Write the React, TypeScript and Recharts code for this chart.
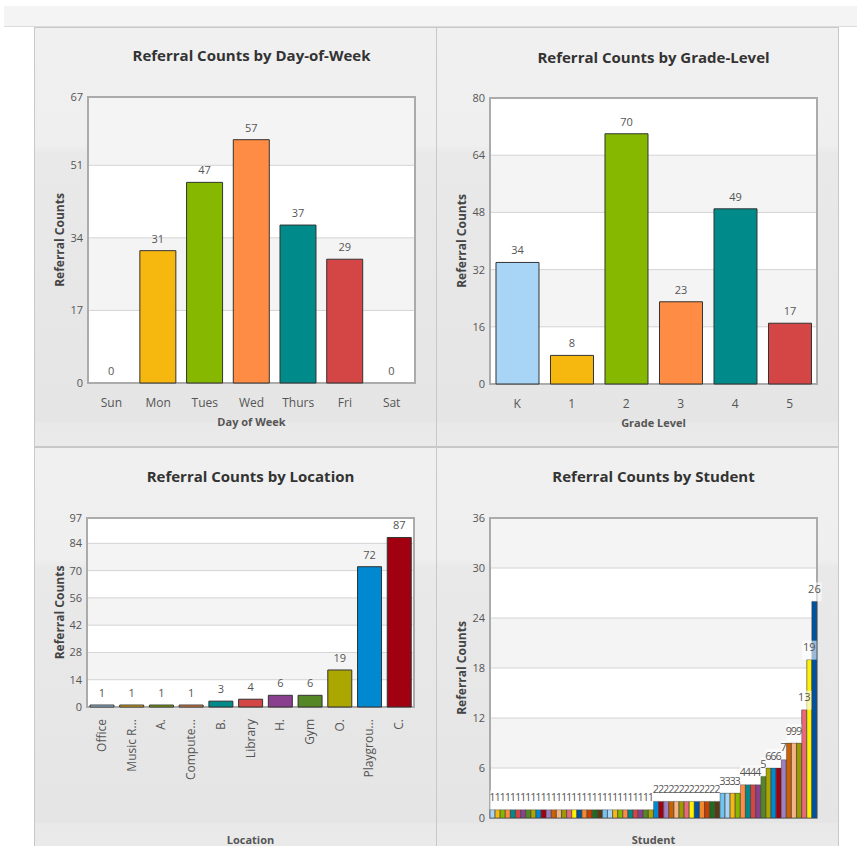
import React from 'react';
import { BarChart, Bar, XAxis, YAxis, CartesianGrid, Cell, LabelList, ReferenceArea } from 'recharts';

// ---------- data ----------
const PALETTE = [
  '#a8d5f5', '#f6b80f', '#86b800', '#ff8c44', '#008a8a', '#d44545', '#8a3f8f', '#558726',
  '#aba600', '#0088d1', '#a0000f', '#9d7fc2', '#cc6100', '#f5b482', '#9c9a00', '#e8687c',
  '#fff200', '#00539e', '#f28a2c', '#c83d00', '#1f6b20', '#5a3a12', '#72c3f0',
];

const dayCategories = ['Sun', 'Mon', 'Tues', 'Wed', 'Thurs', 'Fri', 'Sat'];
const dayCounts = [0, 31, 47, 57, 37, 29, 0];
const dayTicks = [0, 17, 34, 51, 67];

const gradeCategories = ['K', '1', '2', '3', '4', '5'];
const gradeCounts = [34, 8, 70, 23, 49, 17];
const gradeTicks = [0, 16, 32, 48, 64, 80];

const locationCategories = ['Office', 'Music R...', 'A.', 'Compute...', 'B.', 'Library', 'H.', 'Gym', 'O.', 'Playgrou...', 'C.'];
const locationCounts = [1, 1, 1, 1, 3, 4, 6, 6, 19, 72, 87];
const locationTicks = [0, 14, 28, 42, 56, 70, 84, 97];

const studentCounts = [
  1, 1, 1, 1, 1, 1, 1, 1, 1, 1, 1, 1, 1, 1, 1, 1,
  1, 1, 1, 1, 1, 1, 1, 1, 1, 1, 1, 1, 1, 1, 1, 1,
  2, 2, 2, 2, 2, 2, 2, 2, 2, 2, 2, 2, 2,
  3, 3, 3, 3,
  4, 4, 4, 4,
  5,
  6, 6, 6,
  7,
  9, 9, 9,
  13, 19, 26,
];
const studentCategories = studentCounts.map((_, i) => `Student ${i + 1}`);
const studentTicks = [0, 6, 12, 18, 24, 30, 36];

// ---------- styling ----------
const FONT = "'Open Sans', 'DejaVu Sans', sans-serif";
const TEXT = '#555555';

type Spec = {
  left: number; top: number; width: number; height: number;
  title: string; titleCy: number;
  names: string[]; values: number[]; ticks: number[];
  plotLeft: number; plotTop: number; plotRight: number; plotBottom: number;
  xTitle: string; xTitleCy: number;
  xTickMode: 'flat' | 'rotated' | 'none';
  gap: string;
  boxed: boolean;
};

const RotatedTick = (props: any) => {
  const { x, y, payload } = props;
  return (
    <text x={x} y={y} transform={`rotate(-90 ${x} ${y})`} textAnchor="end" dy={4} fontSize={12} fill={TEXT}>
      {payload.value}
    </text>
  );
};

const PlainLabel = (props: any) => {
  const { x, y, width, value } = props;
  const cx = Number(x) + Number(width) / 2;
  return (
    <text x={cx} y={Number(y) - 8} textAnchor="middle" fontSize={11} fill={TEXT}>{String(value)}</text>
  );
};

const BoxedLabel = (props: any) => {
  const { x, y, width, value } = props;
  const cx = Number(x) + Number(width) / 2;
  const s = String(value);
  const bw = s.length === 1 ? Number(width) : s.length * 6.3 + 2;
  return (
    <g>
      <rect x={cx - bw / 2} y={Number(y) - 19} width={bw} height={19} fill="#ffffff" fillOpacity={0.6} />
      <text x={cx} y={Number(y) - 8.5} textAnchor="middle" fontSize={11} fill={TEXT}>{s}</text>
    </g>
  );
};

const zeroPoint = (value: any) => (Number(value) === 0 ? 0.01 : 0);

function RefPanel({ spec }: { spec: Spec }) {
  const data = spec.names.map((name, i) => ({ name, value: spec.values[i] }));
  const stripes = spec.ticks.length - 1;
  const fills = stripes % 2 === 1 ? ['#ffffff', '#f4f4f4'] : ['#f4f4f4', '#ffffff'];
  const plotW = spec.width - spec.plotLeft - spec.plotRight;
  const xAxisHeight = spec.height - spec.plotBottom;
  const maxTick = spec.ticks[spec.ticks.length - 1];
  const barStroke = spec.boxed ? '#3a3a3a' : '#333333';
  const barStrokeWidth = spec.boxed ? 0.6 : 1;

  const yTitle = (p: any) => {
    const vb = p.viewBox || {};
    const cx = vb.x + 25;
    const cy = vb.y + vb.height / 2;
    return (
      <text x={cx} y={cy} transform={`rotate(-90 ${cx} ${cy})`} textAnchor="middle" dy="0.36em"
        fontSize={12} fontWeight={700} fill="#444">Referral Counts</text>
    );
  };
  const xTitle = (p: any) => {
    const vb = p.viewBox || {};
    return (
      <text x={vb.x + vb.width / 2} y={vb.y + spec.xTitleCy} textAnchor="middle" dy="0.36em"
        fontSize={11} fontWeight={700} fill={TEXT}>{spec.xTitle}</text>
    );
  };

  let tickProp: any = { fontSize: 12, fill: TEXT };
  if (spec.xTickMode === 'rotated') tickProp = <RotatedTick />;
  if (spec.xTickMode === 'none') tickProp = false;

  return (
    <div style={{ position: 'absolute', left: spec.left, top: spec.top, width: spec.width, height: spec.height, overflow: 'hidden' }}>
      <BarChart width={spec.width} height={spec.height} data={data}
        margin={{ top: spec.plotTop, right: spec.plotRight, bottom: 0, left: 0 }}
        barCategoryGap={spec.gap}>
        <CartesianGrid vertical={false} stroke="#d4d4d4" horizontalFill={fills} fillOpacity={1} />
        <XAxis dataKey="name" height={xAxisHeight} axisLine={false} tickLine={false} interval={0}
          tick={tickProp} tickSize={6} tickMargin={spec.xTickMode === 'rotated' ? 6 : 9}
          label={xTitle} />
        <YAxis width={spec.plotLeft} domain={[0, maxTick]} ticks={spec.ticks} interval={0}
          axisLine={false} tickLine={false} tickSize={0} tickMargin={5}
          tick={{ fontSize: 11, fill: TEXT }} label={yTitle} />
        <Bar dataKey="value" isAnimationActive={false} minPointSize={zeroPoint}
          stroke={barStroke} strokeWidth={barStrokeWidth}>
          {data.map((d, i) => (
            <Cell key={d.name} fill={PALETTE[i % PALETTE.length]}
              stroke={d.value === 0 ? 'none' : barStroke} strokeWidth={barStrokeWidth} />
          ))}
          <LabelList dataKey="value" content={spec.boxed ? BoxedLabel : PlainLabel} />
        </Bar>
        <ReferenceArea y1={0} y2={maxTick} fill="none" fillOpacity={0} stroke="#ababab" strokeWidth={2} ifOverflow="visible" />
      </BarChart>
      <div style={{
        position: 'absolute', left: spec.plotLeft, width: plotW, top: spec.titleCy - 10, height: 20,
        lineHeight: '20px', textAlign: 'center', fontWeight: 700, fontSize: 15, color: '#333',
        whiteSpace: 'nowrap',
      }}>{spec.title}</div>
    </div>
  );
}

const specs: Spec[] = [
  {
    left: 35, top: 28, width: 401, height: 418, title: 'Referral Counts by Day-of-Week', titleCy: 27,
    names: dayCategories, values: dayCounts, ticks: dayTicks,
    plotLeft: 53, plotTop: 69, plotRight: 21, plotBottom: 355,
    xTitle: 'Day of Week', xTitleCy: 38.7, xTickMode: 'flat', gap: '11%', boxed: false,
  },
  {
    left: 437, top: 28, width: 401, height: 418, title: 'Referral Counts by Grade-Level', titleCy: 28.5,
    names: gradeCategories, values: gradeCounts, ticks: gradeTicks,
    plotLeft: 53, plotTop: 70, plotRight: 21, plotBottom: 356,
    xTitle: 'Grade Level', xTitleCy: 38.7, xTickMode: 'flat', gap: '11%', boxed: false,
  },
  {
    left: 35, top: 448, width: 401, height: 398, title: 'Referral Counts by Location', titleCy: 28,
    names: locationCategories, values: locationCounts, ticks: locationTicks,
    plotLeft: 52, plotTop: 70, plotRight: 22, plotBottom: 259,
    xTitle: 'Location', xTitleCy: 133.5, xTickMode: 'rotated', gap: '10%', boxed: false,
  },
  {
    left: 437, top: 448, width: 401, height: 398, title: 'Referral Counts by Student', titleCy: 28,
    names: studentCategories, values: studentCounts, ticks: studentTicks,
    plotLeft: 53, plotTop: 70, plotRight: 21, plotBottom: 370,
    xTitle: 'Student', xTitleCy: 22.5, xTickMode: 'none', gap: '0%', boxed: true,
  },
];

const panelBg = 'linear-gradient(to bottom, #f0f0f0 0%, #efefef 28%, #e9e9e9 30%, #e5e5e5 94%, #e9e9e9 94.5%, #eaeaea 100%)';

export default function App() {
  return (
    <div style={{ position: 'absolute', left: 0, top: 0, width: 857, height: 846, overflow: 'hidden', background: '#ffffff', fontFamily: FONT }}>
      <div style={{ position: 'absolute', left: 4, top: 6, width: 853, height: 20, background: '#f4f4f4', borderBottom: '1px solid #dcdcdc' }} />
      {specs.map((s) => (
        <div key={s.title + 'bg'} style={{
          position: 'absolute', left: s.left - 1, top: s.top - 1, width: s.width + 2, height: s.height + 2,
          boxSizing: 'border-box', border: '1px solid #c8c8c8', background: panelBg,
        }} />
      ))}
      {specs.map((s) => <RefPanel key={s.title} spec={s} />)}
    </div>
  );
}
